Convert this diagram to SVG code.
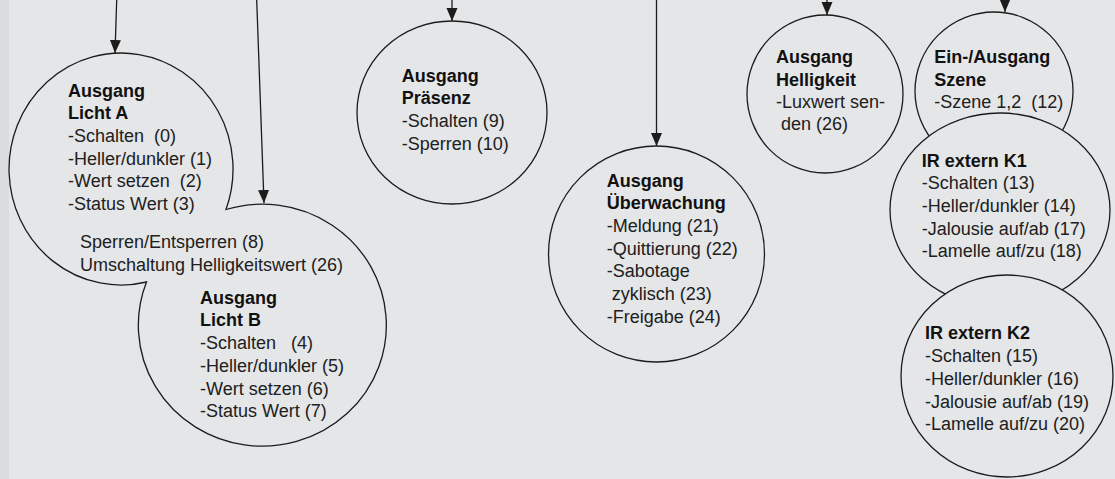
<svg xmlns="http://www.w3.org/2000/svg" width="1115" height="479" viewBox="0 0 1115 479">
<style>
.bg{fill:#e5e6e8}
.n{fill:#e5e6e8;stroke:#1c1c1c;stroke-width:1.3}
.c{stroke:#1c1c1c;stroke-width:1.3;fill:none}
text{font-family:"Liberation Sans",Arial,sans-serif;font-size:18px;fill:#202020;white-space:pre}
.b{font-weight:bold;fill:#111}
</style>
<defs>
<marker id="ah" markerUnits="userSpaceOnUse" markerWidth="13" markerHeight="12" refX="13" refY="5.5" orient="auto">
<path d="M0,0 L13,5.5 L0,11 Z" fill="#1c1c1c"/>
</marker>
</defs>
<rect class="bg" x="0" y="0" width="1115" height="479"/>
<rect x="0" y="0" width="9" height="479" fill="#dbdcdf"/>

<g id="licht-ab">
<path class="n" d="M226,209.5 A112,116 0 1 0 146.5,282 A124,121 0 1 0 226,209.5 Z"/>
<text x="68" y="96.5" class="b">Ausgang</text>
<text x="68" y="119" class="b">Licht A</text>
<text x="68" y="141.7">-Schalten  (0)</text>
<text x="68" y="164.5">-Heller/dunkler (1)</text>
<text x="68" y="187.2">-Wert setzen  (2)</text>
<text x="68" y="210">-Status Wert (3)</text>
<text x="80" y="248.3">Sperren/Entsperren (8)</text>
<text x="80" y="271">Umschaltung Helligkeitswert (26)</text>
<text x="200" y="303.7" class="b">Ausgang</text>
<text x="200" y="326.3" class="b">Licht B</text>
<text x="200" y="349">-Schalten   (4)</text>
<text x="200" y="371.7">-Heller/dunkler (5)</text>
<text x="200" y="394.5">-Wert setzen (6)</text>
<text x="200" y="417">-Status Wert (7)</text>
</g>

<g id="praesenz">
<ellipse class="n" cx="452" cy="112.5" rx="95" ry="91.5"/>
<text x="401.7" y="81.7" class="b">Ausgang</text>
<text x="401.7" y="104.3" class="b">Präsenz</text>
<text x="401.7" y="127">-Schalten (9)</text>
<text x="401.7" y="149.7">-Sperren (10)</text>
</g>

<g id="ueberwachung">
<circle class="n" cx="656.5" cy="254" r="108"/>
<text x="606.7" y="186.7" class="b">Ausgang</text>
<text x="606.7" y="209.3" class="b">Überwachung</text>
<text x="606.7" y="232">-Meldung (21)</text>
<text x="606.7" y="254.7">-Quittierung (22)</text>
<text x="606.7" y="277.3">-Sabotage</text>
<text x="606.7" y="300"> zyklisch (23)</text>
<text x="606.7" y="322.7">-Freigabe (24)</text>
</g>

<g id="helligkeit">
<ellipse class="n" cx="825" cy="94" rx="78" ry="79"/>
<text x="776" y="63.3" class="b">Ausgang</text>
<text x="776" y="85.5" class="b">Helligkeit</text>
<text x="776" y="107.5">-Luxwert sen-</text>
<text x="776" y="130"> den (26)</text>
</g>

<g id="szene">
<circle class="n" cx="994" cy="91" r="79"/>
<text x="934.3" y="63.3" class="b">Ein-/Ausgang</text>
<text x="934.3" y="85.5" class="b">Szene</text>
<text x="934.3" y="107.5">-Szene 1,2  (12)</text>
</g>

<g id="ir-k1">
<ellipse class="n" cx="1000" cy="210" rx="110" ry="97"/>
<text x="921.7" y="166.7" class="b">IR extern K1</text>
<text x="921.7" y="189.3">-Schalten (13)</text>
<text x="921.7" y="212">-Heller/dunkler (14)</text>
<text x="921.7" y="234.7">-Jalousie auf/ab (17)</text>
<text x="921.7" y="257.3">-Lamelle auf/zu (18)</text>
</g>

<g id="ir-k2">
<ellipse class="n" cx="1007" cy="376" rx="106" ry="101"/>
<text x="925" y="339.3" class="b">IR extern K2</text>
<text x="925" y="362">-Schalten (15)</text>
<text x="925" y="384.7">-Heller/dunkler (16)</text>
<text x="925" y="407.5">-Jalousie auf/ab (19)</text>
<text x="925" y="430">-Lamelle auf/zu (20)</text>
</g>

<g id="connectors">
<line class="c" x1="116.7" y1="0" x2="115" y2="53" marker-end="url(#ah)"/>
<line class="c" x1="256.7" y1="0" x2="264" y2="203" marker-end="url(#ah)"/>
<line class="c" x1="452" y1="0" x2="452" y2="21" marker-end="url(#ah)"/>
<line class="c" x1="656.5" y1="0" x2="656.5" y2="146" marker-end="url(#ah)"/>
<line class="c" x1="827" y1="0" x2="827" y2="15" marker-end="url(#ah)"/>
<line class="c" x1="1005" y1="0" x2="1005" y2="12" marker-end="url(#ah)"/>
</g>
</svg>
